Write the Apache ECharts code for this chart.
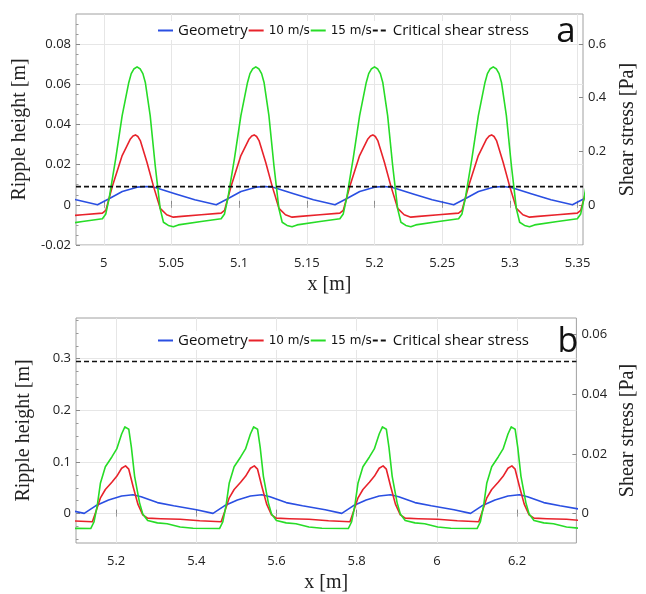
<!DOCTYPE html>
<html><head><meta charset="utf-8">
<script src="https://cdn.jsdelivr.net/npm/echarts@6/dist/echarts.min.js"></script>
<style>html,body{margin:0;padding:0;background:#fff}#c{width:646px;height:594px}</style>
</head><body><div id="c"></div>
<script>
// ---------- Panel a ----------
const xRangeA = [4.9795, 5.354];
const yLeftRangeA = [-0.02, 0.095];
const yRightRangeA = [-0.15, 0.7125];
const xTicksA = [5, 5.05, 5.1, 5.15, 5.2, 5.25, 5.3, 5.35];
const yLeftTicksA = [-0.02, 0, 0.02, 0.04, 0.06, 0.08];
const yLeftMinorA = [-0.015, -0.01, -0.005, 0.005, 0.01, 0.015, 0.025, 0.03, 0.035, 0.045, 0.05, 0.055, 0.065, 0.07, 0.075, 0.085, 0.09];
const yRightTicksA = [0, 0.2, 0.4, 0.6];
const criticalA = 0.068;

const geometryA = [
 [4.9649,0.0055],[4.9795,0.0025],[4.9954,0.0000],[5.0039,0.0030],[5.0137,0.0066],[5.0246,0.0088],[5.0319,0.0091],[5.0380,0.0086],[5.0526,0.0055],[5.0672,0.0025],
 [5.0831,0.0000],[5.0916,0.0030],[5.1014,0.0066],[5.1123,0.0088],[5.1196,0.0091],[5.1257,0.0086],[5.1403,0.0055],[5.1549,0.0025],
 [5.1708,0.0000],[5.1793,0.0030],[5.1891,0.0066],[5.2000,0.0088],[5.2073,0.0091],[5.2134,0.0086],[5.2280,0.0055],[5.2426,0.0025],
 [5.2585,0.0000],[5.2670,0.0030],[5.2768,0.0066],[5.2877,0.0088],[5.2950,0.0091],[5.3011,0.0086],[5.3157,0.0055],[5.3303,0.0025],
 [5.3462,0.0000],[5.3547,0.0030],[5.3645,0.0066]
];
const wind10A = [
 [4.9698,-0.043],[4.9843,-0.037],
 [4.9990,-0.031],[5.0015,-0.021],[5.0063,0.068],[5.0136,0.184],[5.0197,0.246],[5.0216,0.257],[5.0234,0.261],[5.0252,0.255],[5.0270,0.240],[5.0319,0.159],[5.0368,0.068],[5.0417,-0.013],[5.0465,-0.037],[5.0514,-0.046],[5.0575,-0.043],[5.0720,-0.037],
 [5.0867,-0.031],[5.0892,-0.021],[5.0940,0.068],[5.1013,0.184],[5.1074,0.246],[5.1093,0.257],[5.1111,0.261],[5.1129,0.255],[5.1147,0.240],[5.1196,0.159],[5.1245,0.068],[5.1294,-0.013],[5.1342,-0.037],[5.1391,-0.046],[5.1452,-0.043],[5.1597,-0.037],
 [5.1744,-0.031],[5.1769,-0.021],[5.1817,0.068],[5.1890,0.184],[5.1951,0.246],[5.1970,0.257],[5.1988,0.261],[5.2006,0.255],[5.2024,0.240],[5.2073,0.159],[5.2122,0.068],[5.2171,-0.013],[5.2219,-0.037],[5.2268,-0.046],[5.2329,-0.043],[5.2474,-0.037],
 [5.2621,-0.031],[5.2646,-0.021],[5.2694,0.068],[5.2767,0.184],[5.2828,0.246],[5.2847,0.257],[5.2865,0.261],[5.2883,0.255],[5.2901,0.240],[5.2950,0.159],[5.2999,0.068],[5.3048,-0.013],[5.3096,-0.037],[5.3145,-0.046],[5.3206,-0.043],[5.3351,-0.037],
 [5.3498,-0.031],[5.3523,-0.021],[5.3571,0.068],[5.3644,0.184]
];
const wind15A = [
 [4.9674,-0.075],[4.9843,-0.062],
 [4.9990,-0.052],[5.0015,-0.034],[5.0039,0.022],[5.0088,0.172],[5.0136,0.333],[5.0185,0.457],[5.0203,0.490],[5.0222,0.507],[5.0234,0.513],[5.0246,0.515],[5.0258,0.513],[5.0270,0.507],[5.0289,0.490],[5.0307,0.457],[5.0343,0.333],[5.0380,0.147],[5.0417,-0.015],[5.0441,-0.065],[5.0477,-0.077],[5.0514,-0.082],[5.0551,-0.075],[5.0720,-0.062],
 [5.0867,-0.052],[5.0892,-0.034],[5.0916,0.022],[5.0965,0.172],[5.1013,0.333],[5.1062,0.457],[5.1080,0.490],[5.1099,0.507],[5.1111,0.513],[5.1123,0.515],[5.1135,0.513],[5.1147,0.507],[5.1166,0.490],[5.1184,0.457],[5.1220,0.333],[5.1257,0.147],[5.1294,-0.015],[5.1318,-0.065],[5.1354,-0.077],[5.1391,-0.082],[5.1428,-0.075],[5.1597,-0.062],
 [5.1744,-0.052],[5.1769,-0.034],[5.1793,0.022],[5.1842,0.172],[5.1890,0.333],[5.1939,0.457],[5.1957,0.490],[5.1976,0.507],[5.1988,0.513],[5.2000,0.515],[5.2012,0.513],[5.2024,0.507],[5.2043,0.490],[5.2061,0.457],[5.2097,0.333],[5.2134,0.147],[5.2171,-0.015],[5.2195,-0.065],[5.2231,-0.077],[5.2268,-0.082],[5.2305,-0.075],[5.2474,-0.062],
 [5.2621,-0.052],[5.2646,-0.034],[5.2670,0.022],[5.2719,0.172],[5.2767,0.333],[5.2816,0.457],[5.2834,0.490],[5.2853,0.507],[5.2865,0.513],[5.2877,0.515],[5.2889,0.513],[5.2901,0.507],[5.2920,0.490],[5.2938,0.457],[5.2974,0.333],[5.3011,0.147],[5.3048,-0.015],[5.3072,-0.065],[5.3108,-0.077],[5.3145,-0.082],[5.3182,-0.075],[5.3351,-0.062],
 [5.3498,-0.052],[5.3523,-0.034],[5.3547,0.022],[5.3596,0.172]
];

// ---------- Panel b ----------
const xRangeB = [5.1, 6.348];
const yLeftRangeB = [-0.0568, 0.3788];
const yRightRangeB = [-0.00984, 0.06557];
const xTicksB = [5.2, 5.4, 5.6, 5.8, 6, 6.2];
const yLeftTicksB = [0, 0.1, 0.2, 0.3];
const yLeftMinorB = [-0.05, -0.025, 0.025, 0.05, 0.075, 0.125, 0.15, 0.175, 0.225, 0.25, 0.275, 0.325, 0.35, 0.375];
const yRightTicksB = [0, 0.02, 0.04, 0.06];
const criticalB = 0.051;

const geometryB = [
 [5.0792,0.0076],[5.1205,0.0006],[5.1489,0.0152],[5.1813,0.0265],[5.2138,0.0341],[5.2422,0.0366],[5.2625,0.0328],[5.3030,0.0214],[5.3436,0.0152],[5.4004,0.0076],
 [5.4417,0.0006],[5.4701,0.0152],[5.5025,0.0265],[5.5350,0.0341],[5.5634,0.0366],[5.5837,0.0328],[5.6242,0.0214],[5.6648,0.0152],[5.7216,0.0076],
 [5.7629,0.0006],[5.7913,0.0152],[5.8237,0.0265],[5.8562,0.0341],[5.8846,0.0366],[5.9049,0.0328],[5.9454,0.0214],[5.9860,0.0152],[6.0428,0.0076],
 [6.0841,0.0006],[6.1125,0.0152],[6.1449,0.0265],[6.1774,0.0341],[6.2058,0.0366],[6.2261,0.0328],[6.2666,0.0214],[6.3072,0.0152],[6.3640,0.0076]
];
const wind10B = [
 [5.0873,-0.0024],[5.1408,-0.0027],[5.1489,0.0004],[5.1610,0.0053],[5.1732,0.0081],[5.1894,0.0105],[5.2016,0.0125],[5.2138,0.0152],[5.2235,0.0160],[5.2316,0.0149],[5.2422,0.0092],[5.2543,0.0032],[5.2665,-0.0004],[5.2787,-0.0015],[5.3111,-0.0017],[5.3598,-0.0019],[5.4085,-0.0024],
 [5.4620,-0.0027],[5.4701,0.0004],[5.4822,0.0053],[5.4944,0.0081],[5.5106,0.0105],[5.5228,0.0125],[5.5350,0.0152],[5.5447,0.0160],[5.5528,0.0149],[5.5634,0.0092],[5.5755,0.0032],[5.5877,-0.0004],[5.5999,-0.0015],[5.6323,-0.0017],[5.6810,-0.0019],[5.7297,-0.0024],
 [5.7832,-0.0027],[5.7913,0.0004],[5.8034,0.0053],[5.8156,0.0081],[5.8318,0.0105],[5.8440,0.0125],[5.8562,0.0152],[5.8659,0.0160],[5.8740,0.0149],[5.8846,0.0092],[5.8967,0.0032],[5.9089,-0.0004],[5.9211,-0.0015],[5.9535,-0.0017],[6.0022,-0.0019],[6.0509,-0.0024],
 [6.1044,-0.0027],[6.1125,0.0004],[6.1246,0.0053],[6.1368,0.0081],[6.1530,0.0105],[6.1652,0.0125],[6.1774,0.0152],[6.1871,0.0160],[6.1952,0.0149],[6.2058,0.0092],[6.2179,0.0032],[6.2301,-0.0004],[6.2423,-0.0015],[6.2747,-0.0017],[6.3234,-0.0019],[6.3721,-0.0024]
];
const wind15B = [
 [5.0710,-0.0049],[5.1367,-0.0050],[5.1448,-0.0028],[5.1529,0.0026],[5.1610,0.0103],[5.1732,0.0157],[5.1894,0.0190],[5.2016,0.0217],[5.2138,0.0267],[5.2219,0.0291],[5.2255,0.0296],[5.2316,0.0283],[5.2381,0.0223],[5.2462,0.0125],[5.2584,0.0037],[5.2665,-0.0001],[5.2787,-0.0023],[5.3030,-0.0031],[5.3273,-0.0034],[5.3598,-0.0045],[5.3922,-0.0049],
 [5.4579,-0.0050],[5.4660,-0.0028],[5.4741,0.0026],[5.4822,0.0103],[5.4944,0.0157],[5.5106,0.0190],[5.5228,0.0217],[5.5350,0.0267],[5.5431,0.0291],[5.5467,0.0296],[5.5528,0.0283],[5.5593,0.0223],[5.5674,0.0125],[5.5796,0.0037],[5.5877,-0.0001],[5.5999,-0.0023],[5.6242,-0.0031],[5.6485,-0.0034],[5.6810,-0.0045],[5.7134,-0.0049],
 [5.7791,-0.0050],[5.7872,-0.0028],[5.7953,0.0026],[5.8034,0.0103],[5.8156,0.0157],[5.8318,0.0190],[5.8440,0.0217],[5.8562,0.0267],[5.8643,0.0291],[5.8679,0.0296],[5.8740,0.0283],[5.8805,0.0223],[5.8886,0.0125],[5.9008,0.0037],[5.9089,-0.0001],[5.9211,-0.0023],[5.9454,-0.0031],[5.9697,-0.0034],[6.0022,-0.0045],[6.0346,-0.0049],
 [6.1003,-0.0050],[6.1084,-0.0028],[6.1165,0.0026],[6.1246,0.0103],[6.1368,0.0157],[6.1530,0.0190],[6.1652,0.0217],[6.1774,0.0267],[6.1855,0.0291],[6.1891,0.0296],[6.1952,0.0283],[6.2017,0.0223],[6.2098,0.0125],[6.2220,0.0037],[6.2301,-0.0001],[6.2423,-0.0023],[6.2666,-0.0031],[6.2909,-0.0034],[6.3234,-0.0045],[6.3558,-0.0049]
];

const seriesNames = ['Geometry', '10 m/s', '15 m/s', 'Critical shear stress'];

// ---------- styles ----------
const BLUE = '#2a4fe2', RED = '#e8232b', GREEN = '#27dc27', BLACK = '#111';
const LABEL_FONT = 'Open Sans';
const TITLE_FONT = 'Liberation Serif';
const fmt = v => String(+(+v).toFixed(4));

function bottomX(grid, range, ticks) {
  return {
    type: 'value', gridIndex: grid, position: 'bottom', min: range[0], max: range[1],
    name: 'x [m]', nameLocation: 'middle', nameGap: 30,
    nameTextStyle: { fontFamily: TITLE_FONT, fontSize: 20, color: '#222' },
    axisLine: { show: false },
    axisTick: { show: true, inside: true, length: 4, customValues: ticks, lineStyle: { color: '#888' } },
    axisLabel: { customValues: ticks, formatter: fmt, margin: 12, fontFamily: LABEL_FONT, fontSize: 13, color: '#222' },
    splitLine: { show: true, lineStyle: { color: '#e6e6e6', width: 1 } }
  };
}
function topX(grid, range, ticks) {
  return {
    type: 'value', gridIndex: grid, position: 'top', min: range[0], max: range[1],
    axisLine: { show: false },
    axisTick: { show: true, inside: true, length: 3, customValues: ticks, lineStyle: { color: '#999' } },
    axisLabel: { show: false }, splitLine: { show: false }
  };
}
function leftY(grid, range, ticks) {
  return {
    type: 'value', gridIndex: grid, position: 'left', min: range[0], max: range[1],
    name: 'Ripple height [m]', nameLocation: 'middle', nameRotate: 90, nameGap: 42,
    nameTextStyle: { fontFamily: TITLE_FONT, fontSize: 20, color: '#222' },
    axisLine: { show: false },
    axisTick: { show: true, inside: true, length: 4, customValues: ticks, lineStyle: { color: '#888' } },
    axisLabel: { customValues: ticks, formatter: fmt, margin: 5, fontFamily: LABEL_FONT, fontSize: 13, color: '#222' },
    splitLine: { show: true, lineStyle: { color: '#e6e6e6', width: 1 } }
  };
}
function minorY(grid, range, ticks) {
  return {
    type: 'value', gridIndex: grid, position: 'left', min: range[0], max: range[1],
    axisLine: { show: false },
    axisTick: { show: true, inside: true, length: 2.5, customValues: ticks, lineStyle: { color: '#999' } },
    axisLabel: { show: false }, splitLine: { show: false }
  };
}
function rightY(grid, range, ticks) {
  return {
    type: 'value', gridIndex: grid, position: 'right', min: range[0], max: range[1],
    name: 'Shear stress [Pa]', nameLocation: 'middle', nameRotate: 90, nameGap: 35,
    nameTextStyle: { fontFamily: TITLE_FONT, fontSize: 20, color: '#222' },
    axisLine: { show: false },
    axisTick: { show: true, inside: true, length: 4, customValues: ticks, lineStyle: { color: '#888' } },
    axisLabel: { customValues: ticks, formatter: fmt, margin: 5, fontFamily: LABEL_FONT, fontSize: 13, color: '#222' },
    splitLine: { show: false }
  };
}
function line(name, data, xi, yi, color, dashed) {
  return {
    type: 'line', name, data, xAxisIndex: xi, yAxisIndex: yi,
    showSymbol: false, symbol: 'none', smooth: false, clip: true,
    lineStyle: { color, width: 1.6, type: dashed ? [5, 3] : 'solid', join: 'round' },
    itemStyle: { color }, emphasis: { disabled: true }
  };
}
function legend(top) {
  return {
    data: seriesNames, left: 153, top: top, padding: [2, 4],
    itemWidth: 15, itemHeight: 10, itemGap: 0,
    backgroundColor: 'rgba(255,255,255,0.95)',
    selectedMode: false,
    itemStyle: { opacity: 0 },
    textStyle: { fontFamily: LABEL_FONT, fontSize: 15, color: '#111',
      rich: { s: { fontFamily: 'DejaVu Sans', fontSize: 12, color: '#111' } } },
    formatter: n => n.indexOf('m/s') >= 0 ? '{s|' + n + '}' : n
  };
}

const chart = echarts.init(document.getElementById('c'), null, { renderer: 'canvas' });
chart.setOption({
  animation: false,
  backgroundColor: '#fff',
  grid: [
    { left: 76, width: 513, top: 14, height: 231, show: true, borderColor: '#a0a0a0', borderWidth: 1, backgroundColor: 'transparent' },
    { left: 76, width: 513, top: 318, height: 230, show: true, borderColor: '#a0a0a0', borderWidth: 1, backgroundColor: 'transparent' }
  ],
  xAxis: [bottomX(0, xRangeA, xTicksA), topX(0, xRangeA, xTicksA), bottomX(1, xRangeB, xTicksB), topX(1, xRangeB, xTicksB)],
  yAxis: [
    leftY(0, yLeftRangeA, yLeftTicksA), rightY(0, yRightRangeA, yRightTicksA), minorY(0, yLeftRangeA, yLeftMinorA),
    leftY(1, yLeftRangeB, yLeftTicksB), rightY(1, yRightRangeB, yRightTicksB), minorY(1, yLeftRangeB, yLeftMinorB)
  ],
  legend: [legend(21), legend(331)],
  series: [
    line('Geometry', geometryA, 0, 0, BLUE, false),
    line('10 m/s', wind10A, 0, 1, RED, false),
    line('15 m/s', wind15A, 0, 1, GREEN, false),
    line('Critical shear stress', [[xRangeA[0], criticalA], [xRangeA[1], criticalA]], 0, 1, BLACK, true),
    line('Geometry', geometryB, 2, 3, BLUE, false),
    line('10 m/s', wind10B, 2, 4, RED, false),
    line('15 m/s', wind15B, 2, 4, GREEN, false),
    line('Critical shear stress', [[xRangeB[0], criticalB], [xRangeB[1], criticalB]], 2, 4, BLACK, true)
  ],
  graphic: [
    { type: 'text', x: 566, y: 32, z: 100, style: { text: 'a', fontFamily: LABEL_FONT, fontSize: 35, fill: '#111', align: 'center', verticalAlign: 'middle' } },
    { type: 'text', x: 568, y: 342, z: 100, style: { text: 'b', fontFamily: LABEL_FONT, fontSize: 34, fill: '#111', align: 'center', verticalAlign: 'middle' } }
  ]
});
</script></body></html>
